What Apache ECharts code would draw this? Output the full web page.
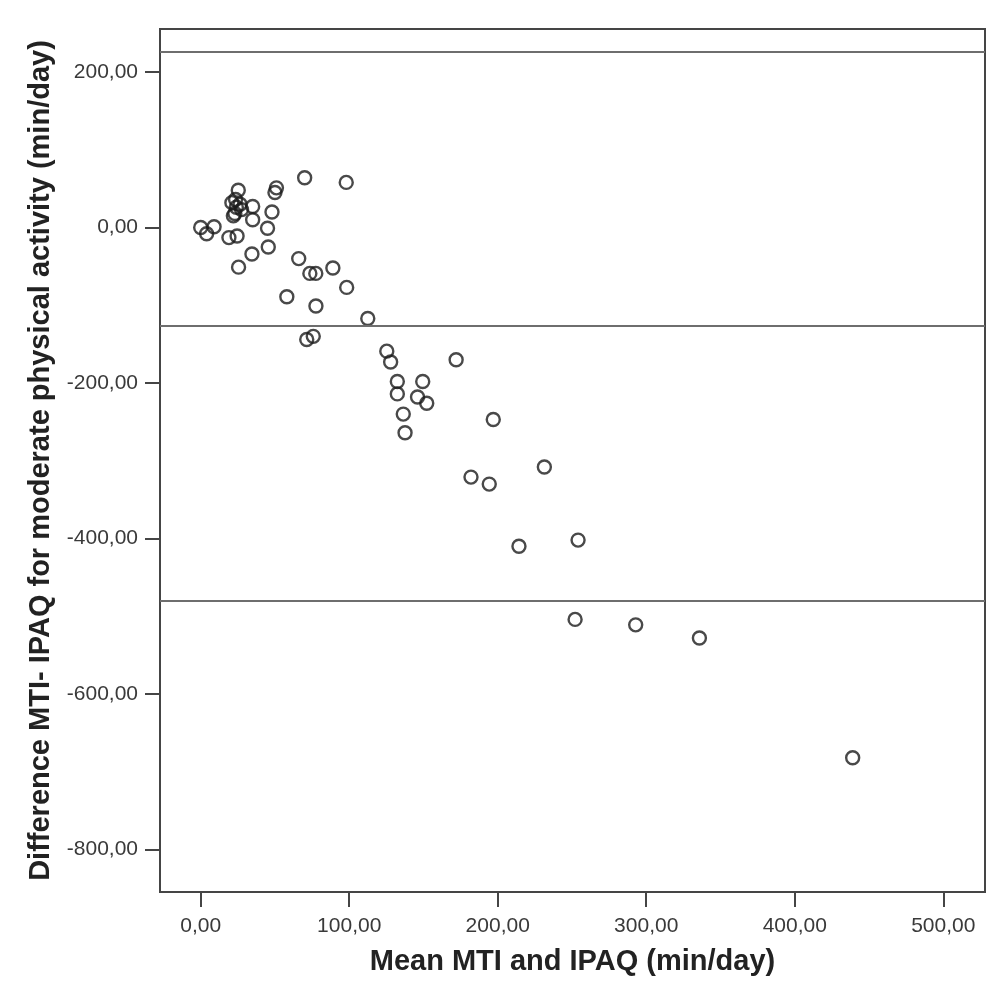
<!DOCTYPE html>
<html>
<head>
<meta charset="utf-8">
<script src="https://cdn.jsdelivr.net/npm/echarts@6/dist/echarts.min.js"></script>
<style>
  html, body { margin: 0; padding: 0; background: #ffffff; }
  #chart { width: 993px; height: 1005px; }
</style>
</head>
<body>
<div id="chart"></div>
<script>
// Bland-Altman: mean of MTI and IPAQ vs their difference (moderate activity, min/day)
const meanValues = [
  0, 4, 9, 19, 24.5, 25.5, 34.5, 45.5, 45, 35,
  22, 23, 35, 48, 24, 27.5, 21, 23.5, 26.5, 25.3,
  50, 51, 70, 98, 66, 73.5, 77.5, 89, 98.3, 58,
  77.6, 112.5, 71.4, 75.8, 125.3, 127.9, 172, 132.4, 149.5, 132.4,
  146, 152.2, 136.4, 137.6, 197, 182, 194.3, 231.4, 214.3, 254.1,
  252.1, 292.9, 335.8, 439
];
const diffValues = [
  0, -8, 1, -13, -11, -51, -34, -25, -1, 10,
  15, 18, 27, 20, 26, 23, 32, 36, 30, 48,
  45, 51, 64, 58, -40, -59, -59, -52, -77, -89,
  -101, -117, -144, -140, -159, -173, -170, -198, -198, -214,
  -218, -226, -240, -264, -247, -321, -330, -308, -410, -402,
  -504, -511, -528, -682
];
// mean difference and limits of agreement
const meanDiff = -126.5;
const upperLimit = 226.5;
const lowerLimit = -479.5;

const xTicks = [0, 100, 200, 300, 400, 500];
const yTicks = [-800, -600, -400, -200, 0, 200];

const points = meanValues.map((m, i) => [m, diffValues[i]]);
const fmt = v => v.toFixed(2).replace('.', ',');
const axisColor = '#454545';
const font = '"Liberation Sans", Arial, sans-serif';

const chart = echarts.init(document.getElementById('chart'), null, { renderer: 'canvas' });
chart.setOption({
  backgroundColor: '#ffffff',
  animation: false,
  grid: {
    left: 160, top: 29, width: 825, height: 863,
    show: true, borderColor: axisColor, borderWidth: 2, backgroundColor: 'transparent'
  },
  xAxis: {
    type: 'value', min: -27.4, max: 528.1,
    name: 'Mean MTI and IPAQ (min/day)',
    nameLocation: 'middle', nameGap: 70,
    nameTextStyle: { fontFamily: font, fontWeight: 'bold', fontSize: 29, color: '#222', verticalAlign: 'middle', align: 'center' },
    axisLine: { show: true, onZero: false, lineStyle: { color: axisColor, width: 2 } },
    axisTick: { show: true, customValues: xTicks, length: 15, lineStyle: { color: axisColor, width: 2 } },
    axisLabel: { customValues: xTicks, formatter: fmt, fontFamily: font, fontSize: 21, color: '#3a3a3a', margin: 24 },
    splitLine: { show: false }
  },
  yAxis: {
    type: 'value', min: -854.6, max: 255.3,
    name: 'Difference MTI- IPAQ for moderate physical activity (min/day)',
    nameLocation: 'middle', nameGap: 116,
    nameTextStyle: { fontFamily: font, fontWeight: 'bold', fontSize: 29, color: '#222', verticalAlign: 'middle', align: 'center' },
    axisLine: { show: true, onZero: false, lineStyle: { color: axisColor, width: 2 } },
    axisTick: { show: true, customValues: yTicks, length: 15, lineStyle: { color: axisColor, width: 2 } },
    axisLabel: { customValues: yTicks, formatter: fmt, fontFamily: font, fontSize: 21, color: '#3a3a3a', margin: 22 },
    splitLine: { show: false }
  },
  series: [{
    type: 'scatter',
    data: points,
    symbol: 'circle',
    symbolSize: 13,
    itemStyle: { color: 'transparent', borderColor: '#1c1c1c', borderWidth: 2.4 },
    markLine: {
      silent: true,
      symbol: ['none', 'none'],
      label: { show: false },
      lineStyle: { color: '#6e6e6e', width: 2, type: 'solid' },
      data: [{ yAxis: upperLimit }, { yAxis: meanDiff }, { yAxis: lowerLimit }]
    },
    z: 3
  }]
});
</script>
</body>
</html>
